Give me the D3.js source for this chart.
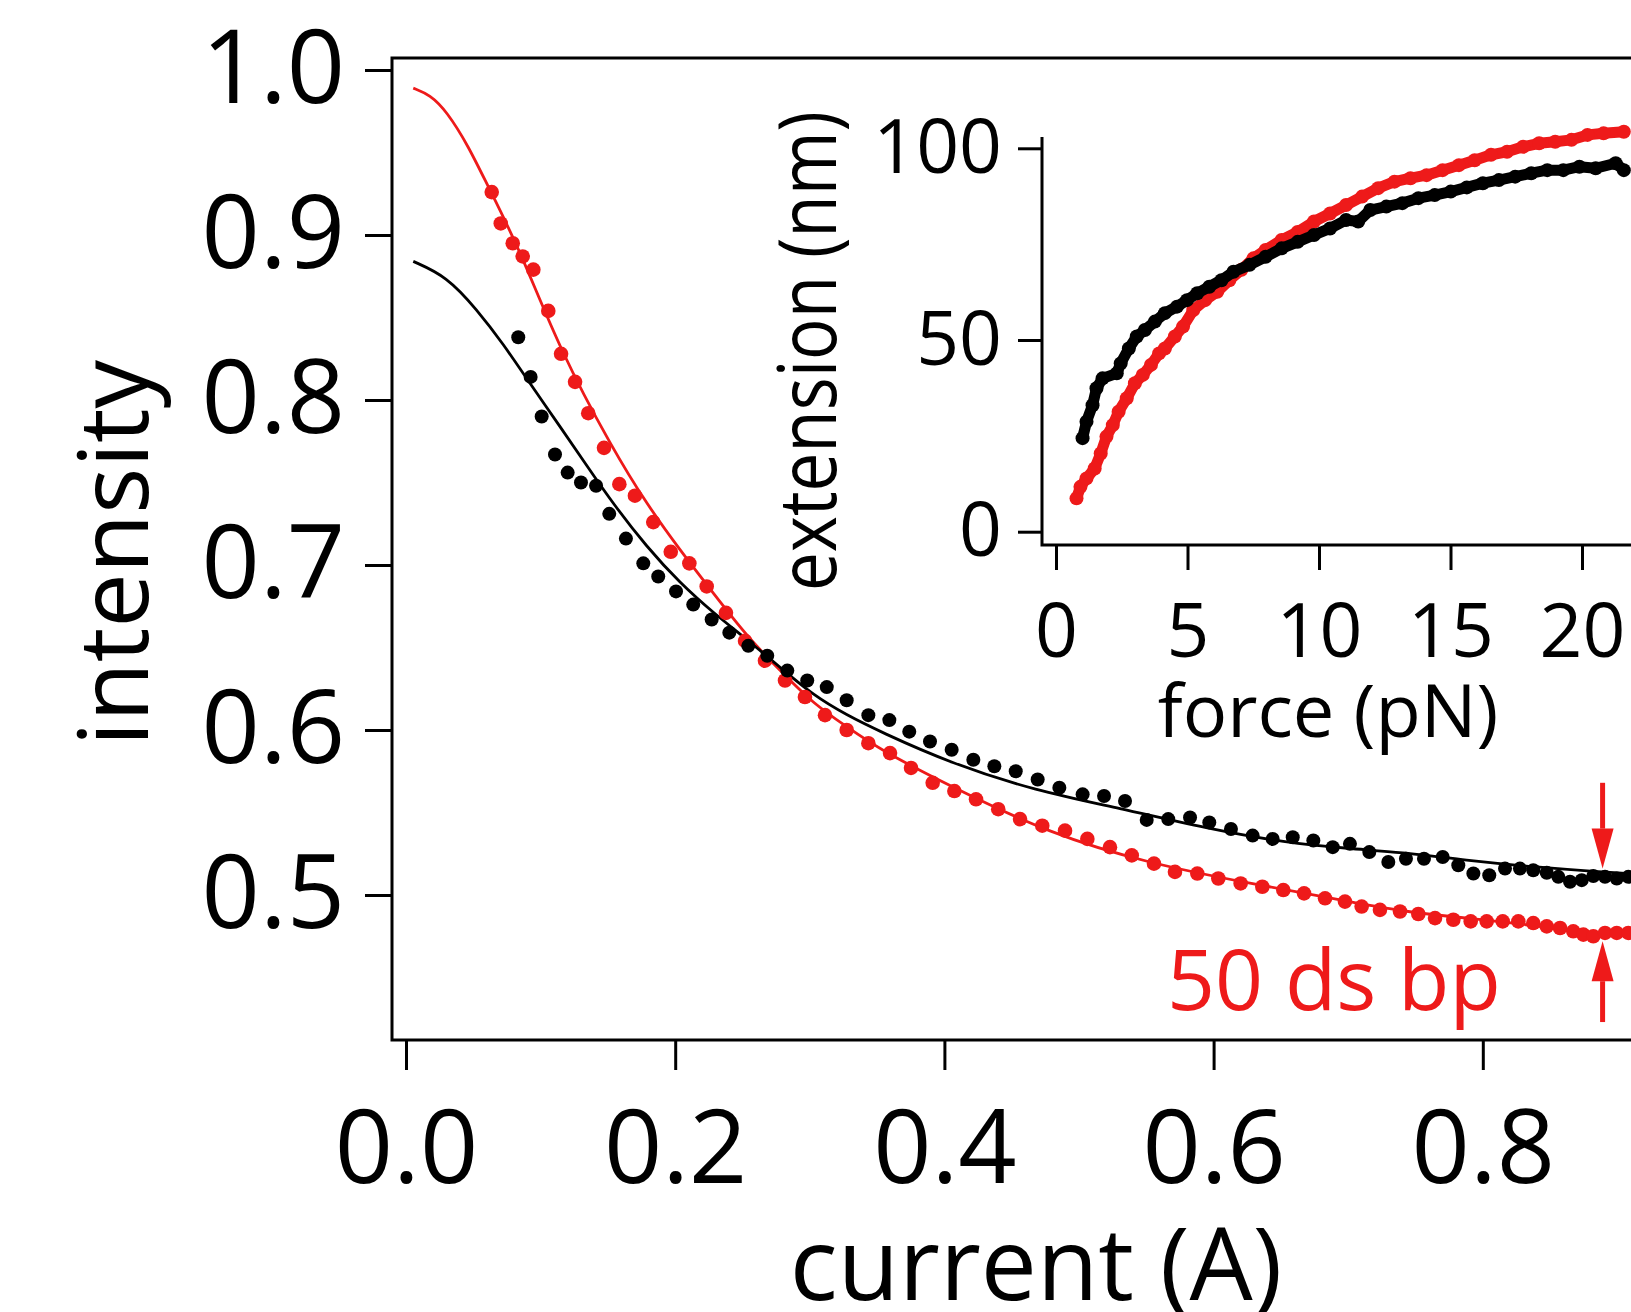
<!DOCTYPE html>
<html>
<head>
<meta charset="utf-8">
<script src="https://cdn.jsdelivr.net/npm/d3@7"></script>
<style>
  body { margin: 0; background: #fff; }
  svg { display: block; }
  text { font-family: "Open Sans", "Noto Sans", sans-serif; fill: #000; }
</style>
</head>
<body>
<div id="chart"></div>
<script>
// intensity vs current for two tethers, with an inset force-extension curve

const RED = "#ee1a1a";

// main panel: measured points [current (A), intensity]
const redDots = [
  [0.0637, 0.926], [0.0704, 0.907], [0.0793, 0.895], [0.0867, 0.887], [0.0946, 0.879],
  [0.1057, 0.854], [0.1152, 0.828], [0.1256, 0.811], [0.1354, 0.792], [0.1471, 0.771],
  [0.1585, 0.749], [0.1701, 0.742], [0.1837, 0.726], [0.1967, 0.708], [0.2105, 0.701],
  [0.2234, 0.687], [0.2377, 0.671], [0.2519, 0.654], [0.2667, 0.642], [0.2816, 0.630],
  [0.2964, 0.620], [0.3113, 0.609], [0.3274, 0.600], [0.3435, 0.592], [0.3596, 0.586],
  [0.3752, 0.577], [0.3913, 0.568], [0.4074, 0.563], [0.4235, 0.558], [0.4400, 0.552],
  [0.4562, 0.546], [0.4727, 0.542], [0.4896, 0.539], [0.5062, 0.534], [0.5230, 0.529],
  [0.5392, 0.524], [0.5557, 0.519], [0.5713, 0.514], [0.5879, 0.513], [0.6035, 0.510],
  [0.6201, 0.507], [0.6362, 0.505], [0.6518, 0.503], [0.6672, 0.501], [0.6828, 0.498],
  [0.6976, 0.496], [0.7100, 0.493], [0.7236, 0.491], [0.7385, 0.490], [0.7521, 0.4885],
  [0.7645, 0.486], [0.7781, 0.485], [0.7910, 0.484], [0.8029, 0.484], [0.8148, 0.484],
  [0.8264, 0.484], [0.8375, 0.483], [0.8475, 0.481], [0.8574, 0.480], [0.8672, 0.478],
  [0.8747, 0.476], [0.8821, 0.475], [0.8908, 0.477], [0.8995, 0.477], [0.9081, 0.477]
];

const blackDots = [
  [0.0834, 0.838], [0.0926, 0.814], [0.1008, 0.790], [0.1107, 0.767], [0.1201, 0.756],
  [0.1300, 0.750], [0.1412, 0.748], [0.1510, 0.731], [0.1634, 0.716], [0.1763, 0.701],
  [0.1874, 0.693], [0.2006, 0.684], [0.2134, 0.676], [0.2271, 0.667], [0.2402, 0.659],
  [0.2543, 0.651], [0.2684, 0.645], [0.2833, 0.636], [0.2981, 0.630], [0.3126, 0.626],
  [0.3274, 0.618], [0.3435, 0.609], [0.3591, 0.606], [0.3739, 0.599], [0.3893, 0.593],
  [0.4054, 0.588], [0.4215, 0.582], [0.4371, 0.578], [0.4530, 0.575], [0.4693, 0.570],
  [0.4854, 0.565], [0.5027, 0.561], [0.5186, 0.560], [0.5342, 0.557], [0.5503, 0.5455],
  [0.5663, 0.546], [0.5825, 0.547], [0.5968, 0.544], [0.6129, 0.540], [0.6290, 0.536],
  [0.6439, 0.534], [0.6588, 0.535], [0.6741, 0.533], [0.6885, 0.529], [0.7013, 0.531],
  [0.7157, 0.526], [0.7298, 0.520], [0.7429, 0.522], [0.7563, 0.522], [0.7702, 0.523],
  [0.7818, 0.518], [0.7930, 0.513], [0.8048, 0.512], [0.8165, 0.516], [0.8276, 0.516],
  [0.8375, 0.515], [0.8475, 0.5135], [0.8561, 0.511], [0.8648, 0.508], [0.8735, 0.509],
  [0.8821, 0.5115], [0.8908, 0.511], [0.8995, 0.510], [0.9081, 0.511]
];

// fitted curves
const redFit = [
  [0.0054, 0.989], [0.0178, 0.985], [0.0302, 0.975], [0.0463, 0.954], [0.0600, 0.931],
  [0.0847, 0.891], [0.1144, 0.830], [0.1538, 0.770], [0.1788, 0.737], [0.2036, 0.709],
  [0.2283, 0.683], [0.2531, 0.657], [0.2779, 0.636], [0.3026, 0.616], [0.3274, 0.602],
  [0.3522, 0.588], [0.4042, 0.566], [0.4785, 0.537], [0.5527, 0.519], [0.6270, 0.507],
  [0.7013, 0.496], [0.7385, 0.490], [0.8128, 0.484], [0.8623, 0.479], [0.8819, 0.476],
  [0.9101, 0.477]
];

const blackFit = [
  [0.0054, 0.884], [0.0302, 0.875], [0.0525, 0.855], [0.0723, 0.834], [0.0921, 0.810],
  [0.1144, 0.784], [0.1345, 0.760], [0.1540, 0.737], [0.1788, 0.711], [0.2036, 0.689],
  [0.2283, 0.671], [0.2531, 0.655], [0.2779, 0.638], [0.3026, 0.621], [0.3274, 0.609],
  [0.3522, 0.599], [0.4042, 0.580], [0.4686, 0.563], [0.5280, 0.553], [0.6023, 0.539],
  [0.6518, 0.532], [0.7013, 0.528], [0.7385, 0.526], [0.7880, 0.521], [0.8375, 0.517],
  [0.8871, 0.514], [0.9101, 0.513]
];

// inset: [force (pN), extension (nm)]
const insetRed = [
  [0.78, 8.7], [0.93, 11.7], [1.16, 13.9], [1.47, 16.5], [1.70, 20.4], [1.92, 24.8],
  [2.16, 27.8], [2.38, 31.3], [2.69, 34.8], [3.00, 38.7], [3.30, 40.9], [3.61, 43.5],
  [3.92, 46.5], [4.14, 47.8], [4.52, 50.9], [4.83, 53.5], [5.22, 57.8], [5.67, 60.4],
  [6.13, 62.6], [6.59, 65.6], [7.05, 68.3], [7.51, 71.3], [7.97, 73.5], [8.58, 76.1],
  [9.19, 78.2], [9.81, 80.9], [10.42, 83.0], [11.03, 85.2], [11.64, 87.4], [12.25, 89.6],
  [12.87, 91.3], [13.48, 92.2], [14.09, 93.0], [14.70, 94.3], [15.32, 95.6], [15.92, 96.9],
  [16.54, 98.3], [17.15, 99.1], [17.76, 100.4], [18.37, 101.3], [18.98, 101.7], [19.60, 102.2],
  [20.21, 103.5], [20.82, 103.9], [21.59, 104.3]
];

const insetBlack = [
  [1.01, 24.4], [1.16, 28.7], [1.39, 33.0], [1.54, 37.4], [1.77, 40.0], [2.31, 41.3],
  [2.46, 43.9], [2.77, 47.8], [3.07, 50.9], [3.38, 52.6], [3.76, 54.8], [4.14, 57.0],
  [4.60, 58.7], [4.98, 60.4], [5.37, 62.2], [5.83, 63.9], [6.29, 65.6], [6.75, 67.8],
  [7.36, 69.6], [7.97, 71.7], [8.58, 73.9], [9.19, 75.6], [9.81, 77.4], [10.42, 79.1],
  [11.03, 81.3], [11.49, 80.9], [11.95, 83.9], [12.56, 84.8], [13.17, 85.7], [13.78, 87.0],
  [14.40, 87.8], [15.01, 88.7], [15.62, 89.8], [16.23, 90.9], [16.84, 91.7], [17.46, 92.6],
  [18.07, 93.5], [18.68, 94.3], [19.29, 94.3], [19.90, 95.2], [20.52, 94.8], [21.28, 96.1],
  [21.59, 94.3]
];

const mainXTicks = [0, 0.2, 0.4, 0.6, 0.8, 1.0];
const mainYTicks = [0.5, 0.6, 0.7, 0.8, 0.9, 1.0];
const insetXTicks = [0, 5, 10, 15, 20];
const insetYTicks = [0, 50, 100];

// arrows marking the two plateaus: [current, from, to]
const arrows = [
  [0.889, 0.568, 0.516],
  [0.889, 0.423, 0.472]
];

const width = 1631, height = 1312;

const svg = d3.select("#chart")
  .append("svg")
  .attr("width", width)
  .attr("height", height);

// ---- main panel ----
const x = d3.scaleLinear().domain([0, 1]).range([406, 1752]);
const y = d3.scaleLinear().domain([0.5, 1.0]).range([895, 70]);

svg.append("rect")
  .attr("x", 392).attr("y", 58)
  .attr("width", 1500).attr("height", 982)
  .attr("fill", "none")
  .attr("stroke", "#000")
  .attr("stroke-width", 3);

const yAxis = svg.append("g")
  .attr("transform", "translate(392,0)")
  .call(d3.axisLeft(y).tickValues(mainYTicks).tickFormat(d3.format(".1f"))
    .tickSize(27).tickPadding(20));

const xAxis = svg.append("g")
  .attr("transform", "translate(0,1040)")
  .call(d3.axisBottom(x).tickValues(mainXTicks).tickFormat(d3.format(".1f"))
    .tickSize(30).tickPadding(41));

[yAxis, xAxis].forEach(g => {
  g.attr("font-family", null).attr("font-size", null);
  g.select(".domain").remove();
  g.selectAll(".tick line").attr("stroke", "#000").attr("stroke-width", 3);
  g.selectAll(".tick text").style("font-size", "102px");
});

const line = d3.line()
  .x(d => x(d[0]))
  .y(d => y(d[1]))
  .curve(d3.curveBasis);

svg.append("path")
  .datum(redFit)
  .attr("d", line)
  .attr("fill", "none")
  .attr("stroke", RED)
  .attr("stroke-width", 2.8);

svg.append("path")
  .datum(blackFit)
  .attr("d", line)
  .attr("fill", "none")
  .attr("stroke", "#000")
  .attr("stroke-width", 2.8);

svg.append("g")
  .selectAll("circle")
  .data(redDots)
  .join("circle")
  .attr("cx", d => x(d[0]))
  .attr("cy", d => y(d[1]))
  .attr("r", 7.3)
  .attr("fill", RED);

svg.append("g")
  .selectAll("circle")
  .data(blackDots)
  .join("circle")
  .attr("cx", d => x(d[0]))
  .attr("cy", d => y(d[1]))
  .attr("r", 7)
  .attr("fill", "#000");

// red arrows
arrows.forEach(([cx, from, to]) => {
  const x0 = x(cx), y0 = y(from), y1 = y(to);
  const dir = y1 > y0 ? 1 : -1;
  const headLen = 40, headW = 11;
  svg.append("line")
    .attr("x1", x0).attr("y1", y0)
    .attr("x2", x0).attr("y2", y1 - dir * headLen)
    .attr("stroke", RED)
    .attr("stroke-width", 5);
  svg.append("path")
    .attr("d", `M${x0},${y1} L${x0 - headW},${y1 - dir * headLen} L${x0 + headW},${y1 - dir * headLen} Z`)
    .attr("fill", RED);
});

svg.append("text")
  .attr("x", 1167)
  .attr("y", 1010)
  .style("font-size", "84px")
  .style("fill", RED)
  .text("50 ds bp");

svg.append("text")
  .attr("x", 1036)
  .attr("y", 1300)
  .attr("text-anchor", "middle")
  .style("font-size", "100px")
  .text("current (A)");

svg.append("text")
  .attr("transform", "translate(148,553) rotate(-90)")
  .attr("text-anchor", "middle")
  .style("font-size", "97px")
  .text("intensity");

// ---- inset ----
const xi = d3.scaleLinear().domain([0, 20]).range([1056, 1582]);
const yi = d3.scaleLinear().domain([0, 100]).range([531.7, 148.3]);

svg.append("path")
  .attr("d", "M1042,137V545H1700")
  .attr("fill", "none")
  .attr("stroke", "#000")
  .attr("stroke-width", 3);

const yiAxis = svg.append("g")
  .attr("transform", "translate(1042,0)")
  .call(d3.axisLeft(yi).tickValues(insetYTicks).tickSize(24).tickPadding(16));

const xiAxis = svg.append("g")
  .attr("transform", "translate(0,545)")
  .call(d3.axisBottom(xi).tickValues(insetXTicks).tickSize(25).tickPadding(34));

[yiAxis, xiAxis].forEach(g => {
  g.attr("font-family", null).attr("font-size", null);
  g.select(".domain").remove();
  g.selectAll(".tick line").attr("stroke", "#000").attr("stroke-width", 3);
  g.selectAll(".tick text").style("font-size", "75px");
});

const insetLine = d3.line()
  .x(d => xi(d[0]))
  .y(d => yi(d[1]));

[[insetRed, RED], [insetBlack, "#000"]].forEach(([data, color]) => {
  svg.append("path")
    .datum(data)
    .attr("d", insetLine)
    .attr("fill", "none")
    .attr("stroke", color)
    .attr("stroke-width", 11)
    .attr("stroke-linejoin", "round");
  svg.append("g")
    .selectAll("circle")
    .data(data)
    .join("circle")
    .attr("cx", d => xi(d[0]))
    .attr("cy", d => yi(d[1]))
    .attr("r", 7)
    .attr("fill", color);
});

svg.append("text")
  .attr("x", 1328)
  .attr("y", 737)
  .attr("text-anchor", "middle")
  .style("font-size", "74px")
  .text("force (pN)");

svg.append("text")
  .attr("transform", "translate(836,351) rotate(-90)")
  .attr("text-anchor", "middle")
  .attr("textLength", 480)
  .attr("lengthAdjust", "spacingAndGlyphs")
  .style("font-size", "80px")
  .text("extension (nm)");
</script>
</body>
</html>
